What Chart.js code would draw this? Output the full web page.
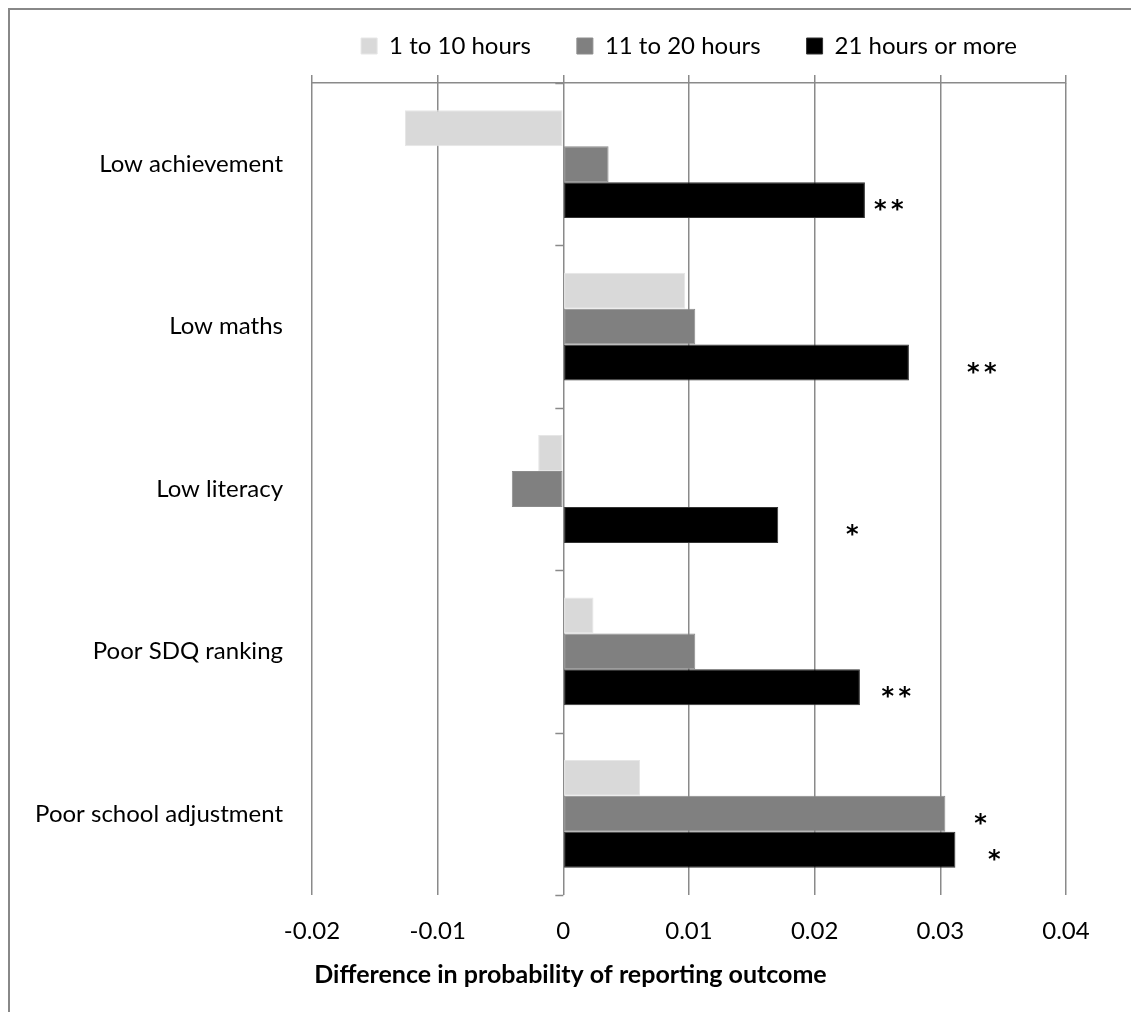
<!DOCTYPE html>
<html>
<head>
<meta charset="utf-8">
<script src="https://cdn.jsdelivr.net/npm/chart.js@4.4.1/dist/chart.umd.min.js"></script>
<style>
    body { margin: 0; background: #fff; }
    #wrap { position: relative; width: 1131px; height: 1012px; overflow: hidden; }
    #frame { position: absolute; left: 8px; top: 8px; width: 1200px; height: 1100px;
             border-left: 2px solid #888; border-top: 2px solid #888; }
    canvas { position: absolute; left: 0; top: 0; }
</style>
</head>
<body>
<div id="wrap">
    <div id="frame"></div>
    <canvas id="myChart" width="1131" height="1012"></canvas>
</div>
<script>
// datos
var categories = ['Low achievement', 'Low maths', 'Low literacy', 'Poor SDQ ranking', 'Poor school adjustment'];
var seriesNames = ['1 to 10 hours', '11 to 20 hours', '21 hours or more'];
var hours1to10 = [-0.0126, 0.0097, -0.0020, 0.0024, 0.0061];
var hours11to20 = [0.0036, 0.0105, -0.0041, 0.0105, 0.0304];
var hours21plus = [0.0240, 0.0275, 0.0171, 0.0236, 0.0312];
// asteriscos de significancia y donde van en el eje x
var stars11to20 = ['', '', '', '', '*'];
var stars11to20At = [0, 0, 0, 0, 0.0332];
var stars21plus = ['**', '**', '*', '**', '*'];
var stars21plusAt = [0.0259, 0.0333, 0.0230, 0.0265, 0.0343];
var xTickLabels = ['-0.02', '-0.01', '0', '0.01', '0.02', '0.03', '0.04'];
var xTitle = 'Difference in probability of reporting outcome';

var gridColor = '#8a8a8a';
var fontFamily = 'Lato, "Open Sans", sans-serif';

document.addEventListener('DOMContentLoaded', function () {
    var ctx = document.getElementById('myChart').getContext('2d');

    // marcas pequenas sobre la linea del cero (eje de categorias)
    var zeroTicks = {
        id: 'zeroTicks',
        afterDraw: function (chart) {
            var x0 = chart.scales.x.getPixelForValue(0);
            var area = chart.chartArea;
            var step = (area.bottom - area.top) / categories.length;
            var c = chart.ctx;
            c.save();
            c.strokeStyle = gridColor;
            c.lineWidth = 1.5;
            c.beginPath();
            for (var i = 0; i <= categories.length; i++) {
                var y = Math.round(area.top + i * step) + 0.5;
                c.moveTo(x0 - 8, y);
                c.lineTo(x0, y);
            }
            c.stroke();
            c.restore();
        }
    };

    var starLabels = {
        id: 'starLabels',
        afterDatasetsDraw: function (chart) {
            var c = chart.ctx;
            var xs = chart.scales.x;
            var sets = [[1, stars11to20, stars11to20At], [2, stars21plus, stars21plusAt]];
            c.save();
            c.fillStyle = '#000';
            c.font = 'bold 24px "DejaVu Sans"';
            c.textAlign = 'center';
            c.textBaseline = 'alphabetic';
            sets.forEach(function (s) {
                var meta = chart.getDatasetMeta(s[0]);
                s[1].forEach(function (txt, i) {
                    var cx = xs.getPixelForValue(s[2][i]);
                    for (var k = 0; k < txt.length; k++) {
                        c.fillText(txt[k], cx + (k - (txt.length - 1) / 2) * 17, meta.data[i].y + 17);
                    }
                });
            });
            c.restore();
        }
    };

    var myChart = new Chart(ctx, {
        type: 'bar',
        data: {
            labels: categories,
            datasets: [{
                label: seriesNames[0],
                data: hours1to10,
                backgroundColor: '#d9d9d9',
                borderColor: '#e6e6e6',
                borderWidth: 1
            }, {
                label: seriesNames[1],
                data: hours11to20,
                backgroundColor: '#808080',
                borderColor: '#8c8c8c',
                borderWidth: 1
            }, {
                label: seriesNames[2],
                data: hours21plus,
                backgroundColor: '#000000',
                borderColor: '#333333',
                borderWidth: 1
            }]
        },
        options: {
            indexAxis: 'y',
            responsive: false,
            animation: false,
            borderSkipped: false,
            categoryPercentage: 0.664,
            barPercentage: 1,
            layout: { padding: { left: 14, right: 4, top: -12, bottom: 0 } },
            plugins: {
                tooltip: { enabled: false },
                legend: {
                    position: 'top',
                    fullSize: false,
                    labels: {
                        color: '#000',
                        font: { family: fontFamily, size: 24 },
                        boxWidth: 16,
                        boxHeight: 16,
                        padding: 46
                    }
                },
                title: {
                    display: true,
                    position: 'bottom',
                    text: xTitle,
                    color: '#000',
                    font: { family: fontFamily, size: 25, weight: 'bold' },
                    padding: { top: 14, bottom: 22 }
                }
            },
            scales: {
                x: {
                    position: 'bottom',
                    min: -0.02,
                    max: 0.04,
                    ticks: {
                        stepSize: 0.01,
                        color: '#000',
                        font: { family: fontFamily, size: 24 },
                        padding: 22,
                        callback: function (v, i) { return xTickLabels[i]; }
                    },
                    grid: { color: gridColor, lineWidth: 1.5, drawTicks: false },
                    border: { display: false },
                    afterFit: function (s) { s.height = 51; }
                },
                x2: {
                    position: 'top',
                    min: -0.02,
                    max: 0.04,
                    ticks: { display: false, stepSize: 0.01 },
                    grid: { color: gridColor, lineWidth: 1.5, drawOnChartArea: false, tickLength: 8 },
                    border: { display: true, color: gridColor, width: 1.5 },
                    afterFit: function (s) { s.height = 15; }
                },
                y: {
                    grid: { display: false },
                    border: { display: false },
                    ticks: {
                        color: '#000',
                        font: { family: fontFamily, size: 24 },
                        padding: 21
                    },
                    afterFit: function (s) { s.width = 298; }
                },
                yRight: {
                    axis: 'y',
                    type: 'category',
                    position: 'right',
                    grid: { display: false },
                    border: { display: false },
                    ticks: { display: false },
                    afterFit: function (s) { s.width = 61; }
                }
            }
        },
        plugins: [zeroTicks, starLabels]
    });
});
</script>
</body>
</html>
